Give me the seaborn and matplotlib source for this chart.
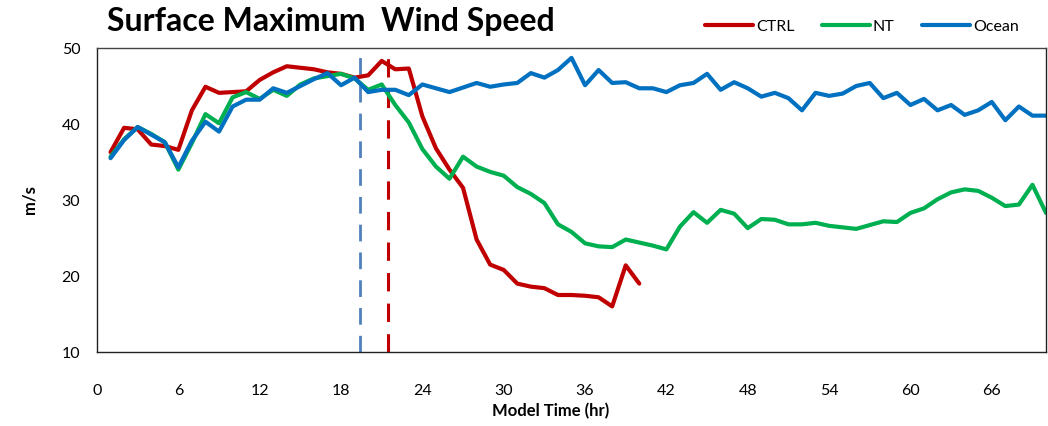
import numpy as np
import pandas as pd
import matplotlib
matplotlib.use("Agg")
import matplotlib.pyplot as plt
import seaborn as sns

# Hourly surface maximum wind speed (m/s)
hours_ctrl = list(range(1, 41))
ctrl = [36.3, 39.5, 39.3, 37.3, 37.1, 36.6, 41.8, 44.9, 44.1, 44.2,
        44.3, 45.8, 46.8, 47.6, 47.4, 47.2, 46.8, 46.6, 46.1, 46.4,
        48.3, 47.2, 47.3, 41.0, 36.8, 34.0, 31.6, 24.8, 21.5, 20.8,
        19.0, 18.6, 18.4, 17.5, 17.5, 17.4, 17.2, 16.0, 21.4, 19.0]

hours_long = list(range(1, 71))
nt = [35.7, 38.0, 39.6, 38.7, 37.6, 34.0, 37.5, 41.3, 40.1, 43.5,
      44.2, 43.3, 44.5, 43.7, 45.2, 46.0, 46.3, 46.6, 46.0, 44.5,
      45.2, 42.5, 40.2, 36.7, 34.4, 32.8, 35.7, 34.4, 33.7, 33.2,
      31.7, 30.8, 29.6, 26.8, 25.8, 24.3, 23.9, 23.8, 24.8, 24.4,
      24.0, 23.5, 26.5, 28.4, 27.0, 28.7, 28.2, 26.3, 27.5, 27.4,
      26.8, 26.8, 27.0, 26.6, 26.4, 26.2, 26.7, 27.2, 27.1, 28.3,
      28.9, 30.1, 31.0, 31.4, 31.2, 30.3, 29.2, 29.4, 32.0, 28.3]
ocean = [35.5, 37.9, 39.6, 38.6, 37.6, 34.3, 37.8, 40.3, 39.0, 42.3,
         43.2, 43.2, 44.7, 44.1, 45.0, 45.9, 46.7, 45.1, 46.1, 44.2,
         44.5, 44.5, 43.8, 45.2, 44.7, 44.2, 44.8, 45.4, 44.9, 45.2,
         45.4, 46.7, 46.1, 47.1, 48.7, 45.1, 47.1, 45.4, 45.5, 44.7,
         44.7, 44.2, 45.1, 45.4, 46.6, 44.5, 45.5, 44.7, 43.6, 44.1,
         43.4, 41.8, 44.1, 43.7, 44.0, 45.0, 45.4, 43.4, 44.1, 42.5,
         43.3, 41.8, 42.5, 41.2, 41.8, 42.9, 40.5, 42.3, 41.1, 41.1]

series_names = ["CTRL", "NT", "Ocean"]
series_colors = ["#C00000", "#00B050", "#0070C0"]

# Times of the two marked events (hr)
event_ocean = 19.4
event_ctrl = 21.5

x_ticks = list(range(0, 67, 6))
y_ticks = [10, 20, 30, 40, 50]

df = pd.concat([
    pd.DataFrame({"hour": hours_ctrl, "wind": ctrl, "run": "CTRL"}),
    pd.DataFrame({"hour": hours_long, "wind": nt, "run": "NT"}),
    pd.DataFrame({"hour": hours_long, "wind": ocean, "run": "Ocean"}),
], ignore_index=True)

sns.set_style("white")
plt.rcParams["font.family"] = ["Lato", "DejaVu Sans"]
plt.rcParams["text.color"] = "black"
plt.rcParams["xtick.color"] = "black"
plt.rcParams["ytick.color"] = "black"

fig = plt.figure(figsize=(10.48, 4.26), dpi=100)
ax = fig.add_axes([97 / 1048, 1 - 352 / 426, (1046 - 97) / 1048, (352 - 48) / 426])

sns.lineplot(data=df, x="hour", y="wind", hue="run", hue_order=series_names,
             palette=series_colors, linewidth=3.0, ax=ax, legend=True,
             solid_joinstyle="round", solid_capstyle="round")

ax.vlines(event_ocean, 10, 48.9, colors="#4F81BD", linestyles=(0, (6, 4)), linewidth=2.0, zorder=1)
ax.vlines(event_ctrl, 10, 49.2, colors="#C00000", linestyles=(0, (6, 4)), linewidth=2.2, zorder=1)

ax.set_xlim(0, 70)
ax.set_ylim(10, 50)
ax.set_xticks(x_ticks)
ax.set_yticks(y_ticks)
ax.tick_params(axis="x", direction="out", length=5, width=1, pad=18, labelsize=11.5, color="black")
ax.tick_params(axis="y", direction="out", length=6, width=1, pad=6, labelsize=11.5, color="black")
for side in ["left", "bottom", "top", "right"]:
    ax.spines[side].set_visible(True)
    ax.spines[side].set_color("#222222")
    ax.spines[side].set_linewidth(1.0)
ax.spines["top"].set_color("#444444")
ax.set_xlabel("")
ax.set_ylabel("")

fig.text(30 / 1048, 1 - 200 / 426, "m/s", rotation=90, ha="center", va="center",
         fontsize=12, fontweight="bold")
fig.text(551 / 1048, 1 - 411 / 426, "Model Time (hr)", ha="center", va="center",
         fontsize=12, fontweight="bold")
fig.text(107 / 1048, 1 - 21 / 426, "Surface Maximum  Wind Speed", ha="left", va="center",
         fontsize=23, fontweight="bold")

handles, labels = ax.get_legend_handles_labels()
ax.legend(handles, labels, loc="center right", bbox_to_anchor=(1025 / 1048, 1 - 27 / 426),
          bbox_transform=fig.transFigure, ncol=3, frameon=False, fontsize=11.5,
          handlelength=3.0, handletextpad=0.2, columnspacing=1.7, borderaxespad=0)

fig.savefig("out.png", dpi=100)
